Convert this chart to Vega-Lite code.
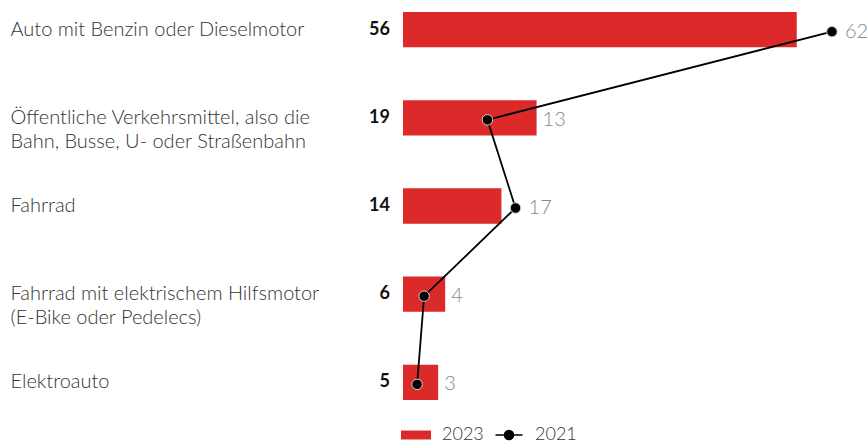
{
  "$schema": "https://vega.github.io/schema/vega-lite/v6.json",
  "width": 450,
  "height": 388,
  "autosize": {"type": "none"},
  "padding": {"left": 403, "top": 12, "right": 14, "bottom": 43},
  "background": "white",
  "config": {"view": {"stroke": null}, "font": "Lato"},
  "data": {
    "values": [
      {"cat": "Auto mit Benzin oder Dieselmotor", "v2023": 56, "v2021": 62},
      {"cat": "Öffentliche Verkehrsmittel, also die|Bahn, Busse, U- oder Straßenbahn", "v2023": 19, "v2021": 13},
      {"cat": "Fahrrad", "v2023": 14, "v2021": 17},
      {"cat": "Fahrrad mit elektrischem Hilfsmotor|(E-Bike oder Pedelecs)", "v2023": 6, "v2021": 4},
      {"cat": "Elektroauto", "v2023": 5, "v2021": 3}
    ]
  },
  "encoding": {
    "y": {
      "field": "cat",
      "type": "nominal",
      "sort": [
        "Auto mit Benzin oder Dieselmotor",
        "Öffentliche Verkehrsmittel, also die|Bahn, Busse, U- oder Straßenbahn",
        "Fahrrad",
        "Fahrrad mit elektrischem Hilfsmotor|(E-Bike oder Pedelecs)",
        "Elektroauto"
      ],
      "scale": {"paddingInner": 0.6, "paddingOuter": 0},
      "axis": {
        "title": null,
        "domain": false,
        "ticks": false,
        "tickSize": 0,
        "labelAlign": "left",
        "labelBaseline": "middle",
        "labelPadding": 393,
        "labelLimit": 0,
        "labelFont": "Lato",
        "labelFontSize": 20,
        "labelFontWeight": 300,
        "labelColor": "#333333",
        "labelLineHeight": 24,
        "labelExpr": "split(datum.label, '|')"
      }
    }
  },
  "layer": [
    {
      "mark": {"type": "bar"},
      "encoding": {
        "x": {"field": "v2023", "type": "quantitative", "scale": {"domain": [0, 64], "nice": false}, "axis": null},
        "color": {
          "datum": "2023",
          "type": "nominal",
          "scale": {"domain": ["2023", "2021"], "range": ["#dc2a2b", "#000000"]},
          "legend": {
            "title": null,
            "orient": "bottom",
            "direction": "horizontal",
            "offset": 24,
            "symbolSize": 400,
            "labelFont": "Lato",
            "labelFontSize": 18,
            "labelFontWeight": 300,
            "labelColor": "#333333",
            "labelOffset": 17,
            "columnPadding": 8,
            "encode": {
              "symbols": {
                "update": {
                  "shape": {"signal": "datum.value === '2023' ? 'M-1.3,-0.45H1.7V0.45H-1.3Z' : 'M-1.15,0H1.55M0.65,0A0.45,0.45 0 1,1 -0.25,0A0.45,0.45 0 1,1 0.65,0Z'"},
                  "stroke": {"signal": "datum.value === '2023' ? 'transparent' : '#000000'"},
                  "strokeWidth": {"value": 1.6},
                  "fill": {"signal": "datum.value === '2023' ? '#dc2a2b' : '#000000'"},
                  "opacity": {"value": 1}
                }
              }
            }
          }
        }
      }
    },
    {
      "mark": {"type": "text", "align": "right", "baseline": "middle", "dx": -13, "font": "Lato", "fontSize": 18, "fontWeight": "bold", "color": "#111111"},
      "encoding": {
        "x": {"datum": 0, "type": "quantitative"},
        "text": {"field": "v2023", "type": "quantitative"}
      }
    },
    {
      "mark": {"type": "line", "color": "#000000", "strokeWidth": 1.8, "xOffset": -7, "yOffset": 2},
      "encoding": {
        "x": {"field": "v2021", "type": "quantitative"},
        "order": {"field": "v2023", "sort": "descending"}
      }
    },
    {
      "mark": {"type": "point", "filled": true, "size": 110, "opacity": 1, "stroke": "#cfcfcf", "strokeWidth": 1, "xOffset": -7, "yOffset": 2},
      "encoding": {
        "x": {"field": "v2021", "type": "quantitative"},
        "color": {"datum": "2021", "type": "nominal"}
      }
    },
    {
      "transform": [{"fold": ["v2023", "v2021"], "as": ["key", "val"]}],
      "mark": {"type": "text", "align": "left", "baseline": "middle", "dx": 6, "dy": 2, "font": "Lato", "fontSize": 20, "fontWeight": 300, "color": "#8a8a80"},
      "encoding": {
        "x": {"aggregate": "max", "field": "val", "type": "quantitative"},
        "text": {"field": "v2021", "type": "quantitative"}
      }
    }
  ]
}
